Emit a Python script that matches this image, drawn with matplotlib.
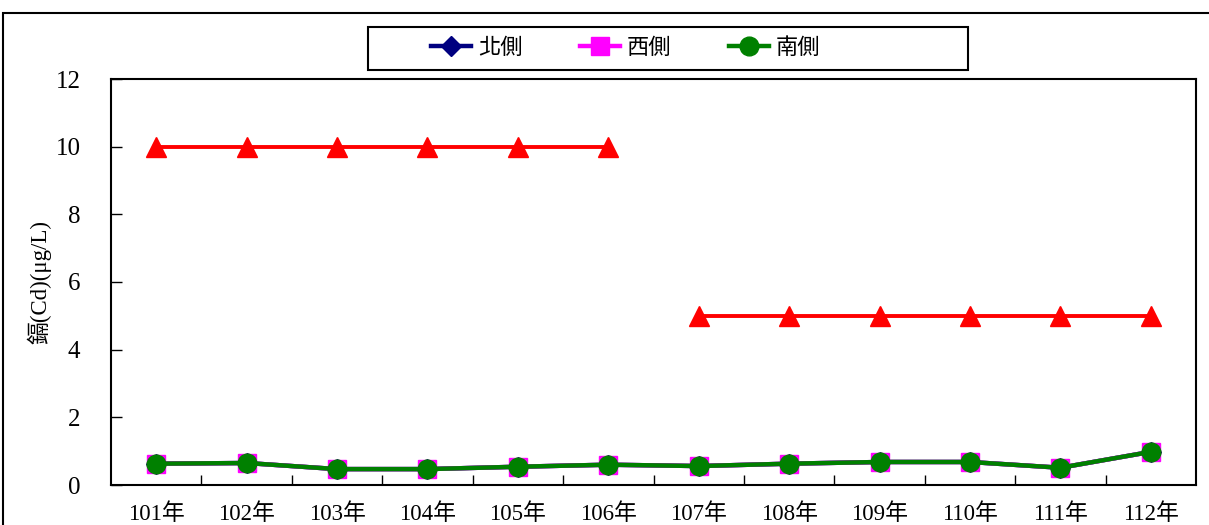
import matplotlib
matplotlib.use('Agg')
import matplotlib.pyplot as plt
from matplotlib.patches import Rectangle

plt.rcParams['font.family'] = ['Liberation Serif', 'Noto Sans CJK TC']

years = ['101年', '102年', '103年', '104年', '105年', '106年',
         '107年', '108年', '109年', '110年', '111年', '112年']
north = [0.63, 0.65, 0.47, 0.47, 0.54, 0.60, 0.56, 0.63, 0.68, 0.68, 0.51, 0.98]
west = [0.63, 0.65, 0.47, 0.47, 0.54, 0.60, 0.56, 0.63, 0.68, 0.68, 0.51, 0.98]
south = [0.63, 0.65, 0.47, 0.47, 0.54, 0.60, 0.56, 0.63, 0.68, 0.68, 0.51, 0.98]
std_old = [10, 10, 10, 10, 10, 10]
std_new = [5, 5, 5, 5, 5, 5]

W, H = 1209, 525
fig = plt.figure(figsize=(W / 100, H / 100), dpi=100)
ax = fig.add_axes([111 / W, 40 / H, 1085 / W, 406 / H])

x = list(range(len(years)))
ax.plot(x[:6], std_old, color='#ff0000', lw=2.8, marker='^', ms=14, zorder=2)
ax.plot(x[6:], std_new, color='#ff0000', lw=2.8, marker='^', ms=14, zorder=2)
ax.plot(x, north, color='#000080', lw=3.2, marker='D', ms=10, label='北側', zorder=3)
ax.plot(x, west, color='#ff00ff', lw=3.2, marker='s', ms=13, label='西側', zorder=4)
ax.plot(x, south, color='#008000', lw=3.2, marker='o', ms=13.5, label='南側', zorder=5)

ax.set_xlim(-0.5, len(years) - 0.5)
ax.set_ylim(0, 12)
ax.set_yticks(range(0, 13, 2))
ax.set_xticks(x)
ax.set_xticklabels(years)
ax.set_xticks([i + 0.5 for i in x[:-1]], minor=True)
ax.tick_params(axis='x', which='major', length=0, pad=13, labelsize=16.5)
ax.tick_params(axis='x', which='minor', direction='in', length=7, width=1)
ax.tick_params(axis='y', direction='in', length=8, width=1, pad=22, labelsize=18)
for s in ax.spines.values():
    s.set_linewidth(1.5)
ax.set_ylabel('鎘(Cd)(μg/L)', fontsize=16.5, labelpad=3)

# legend entries without frame, box drawn separately
leg = fig.legend(loc='center', bbox_to_anchor=(626 / W, 1 - 48.5 / H), ncol=3,
                 fontsize=16, frameon=False, columnspacing=2.6,
                 handlelength=1.8, handletextpad=0.3)
fig.patches.append(Rectangle((368 / W, 1 - 70 / H), 600 / W, 43 / H,
                             transform=fig.transFigure, fill=False,
                             edgecolor='black', lw=1.5, figure=fig))

# outer frame around the whole chart
fig.patches.append(Rectangle((3 / W, -0.05), 1.1, 1 - 13 / H + 0.05,
                             transform=fig.transFigure, fill=False,
                             edgecolor='black', lw=1.5, figure=fig))

fig.savefig('out.png', dpi=100)
